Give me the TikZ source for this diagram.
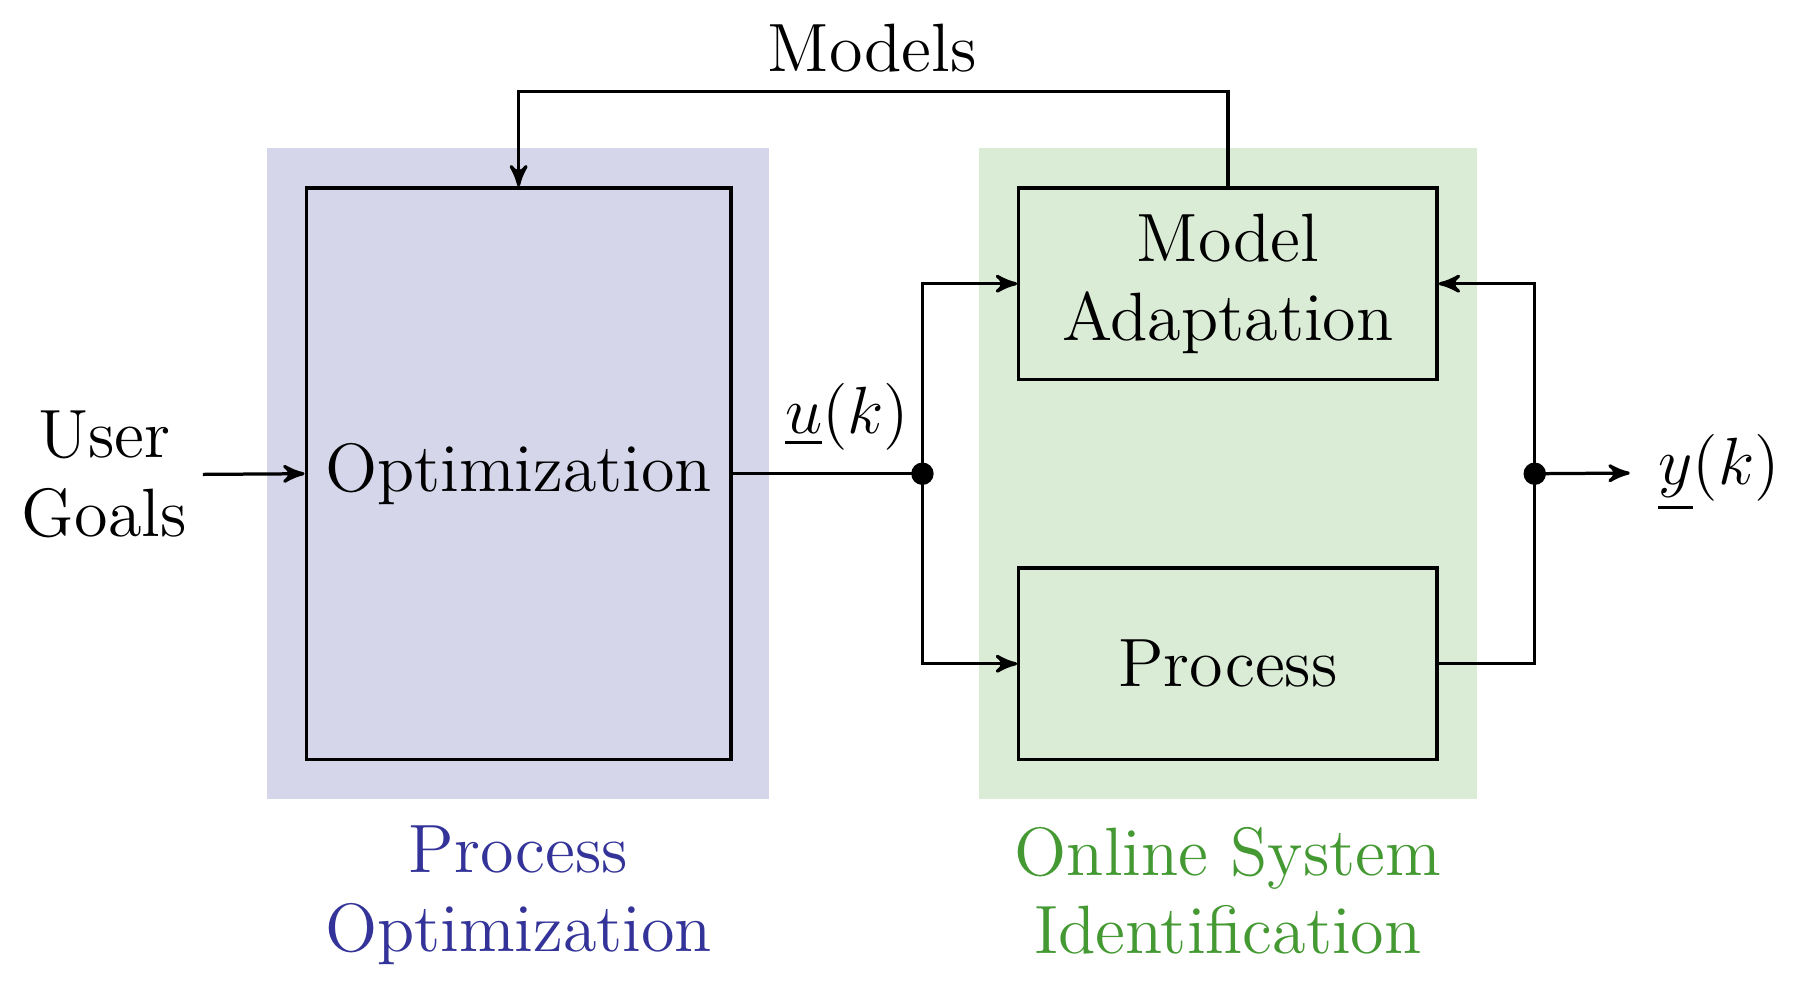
\documentclass[tikz,border=0pt]{standalone}
\usepackage{amsmath}
\usepackage{xcolor}
\usetikzlibrary{calc}
\usetikzlibrary{shapes,arrows}
\usetikzlibrary{positioning}
\definecolor{optblue}{RGB}{51,51,153}
\definecolor{idgreen}{RGB}{68,153,51}
\tikzstyle{blk}=[rectangle, draw, line width=0.7pt, align=center, inner sep=0pt, font=\fontsize{14.75}{17}\selectfont]
\tikzstyle{txt}=[align=center, font=\fontsize{14.75}{17}\selectfont]
\tikzstyle{jn}=[circle, fill=black, inner sep=0pt, minimum size=0.17cm]
\tikzstyle{sig}=[->, >=stealth', line width=0.7pt]

\begin{document}
\begin{tikzpicture}
\useasboundingbox (0,0) rectangle (13.64,7.485);
% shaded areas
\fill[optblue!20] (2.02,1.43) rectangle (5.83,6.36);
\fill[idgreen!20] (7.42,1.43) rectangle (11.19,6.36);
% blocks
\node[blk, minimum width=3.22cm, minimum height=4.33cm] (opt) at (3.93,3.895) {Optimization};
\node[blk, minimum width=3.17cm, minimum height=1.45cm] (ma) at (9.305,5.335) {Model\\Adaptation};
\node[blk, minimum width=3.17cm, minimum height=1.45cm] (proc) at (9.305,2.455) {Process};
% texts
\node[txt] (goals) at (0.79,3.89) {User\\Goals};
\node[txt] (uk) at (6.42,4.33) {$\underline{u}(k)$};
\node[txt, anchor=west, inner xsep=0.21cm] (yk) at (12.35,3.90) {$\underline{y}(k)$};
\node[txt] (models) at (6.61,7.12) {Models};
\node[txt, text=optblue] (lopt) at (3.93,0.70) {Process\\Optimization};
\node[txt, text=idgreen] (lid) at (9.305,0.735) {Online System\\Identification};
% junctions
\node[jn] (dl) at (6.99,3.895) {};
\node[jn] (dr) at (11.63,3.895) {};
\coordinate (mt) at (9.305,6.79);
% signals
\draw [sig] (goals.east) -- (opt.west);
\draw [line width=0.7pt] (opt.east) -- (dl.center);
\draw [sig] (dl.center) |- (ma.west);
\draw [sig] (dl.center) |- (proc.west);
\draw [line width=0.7pt] (proc.east) -| (dr.center);
\draw [sig] (dr.center) |- (ma.east);
\draw [sig] (dr.center) -- (yk.west);
\draw [sig] (ma.north) -- (mt) -| (opt.north);
\end{tikzpicture}
\end{document}
